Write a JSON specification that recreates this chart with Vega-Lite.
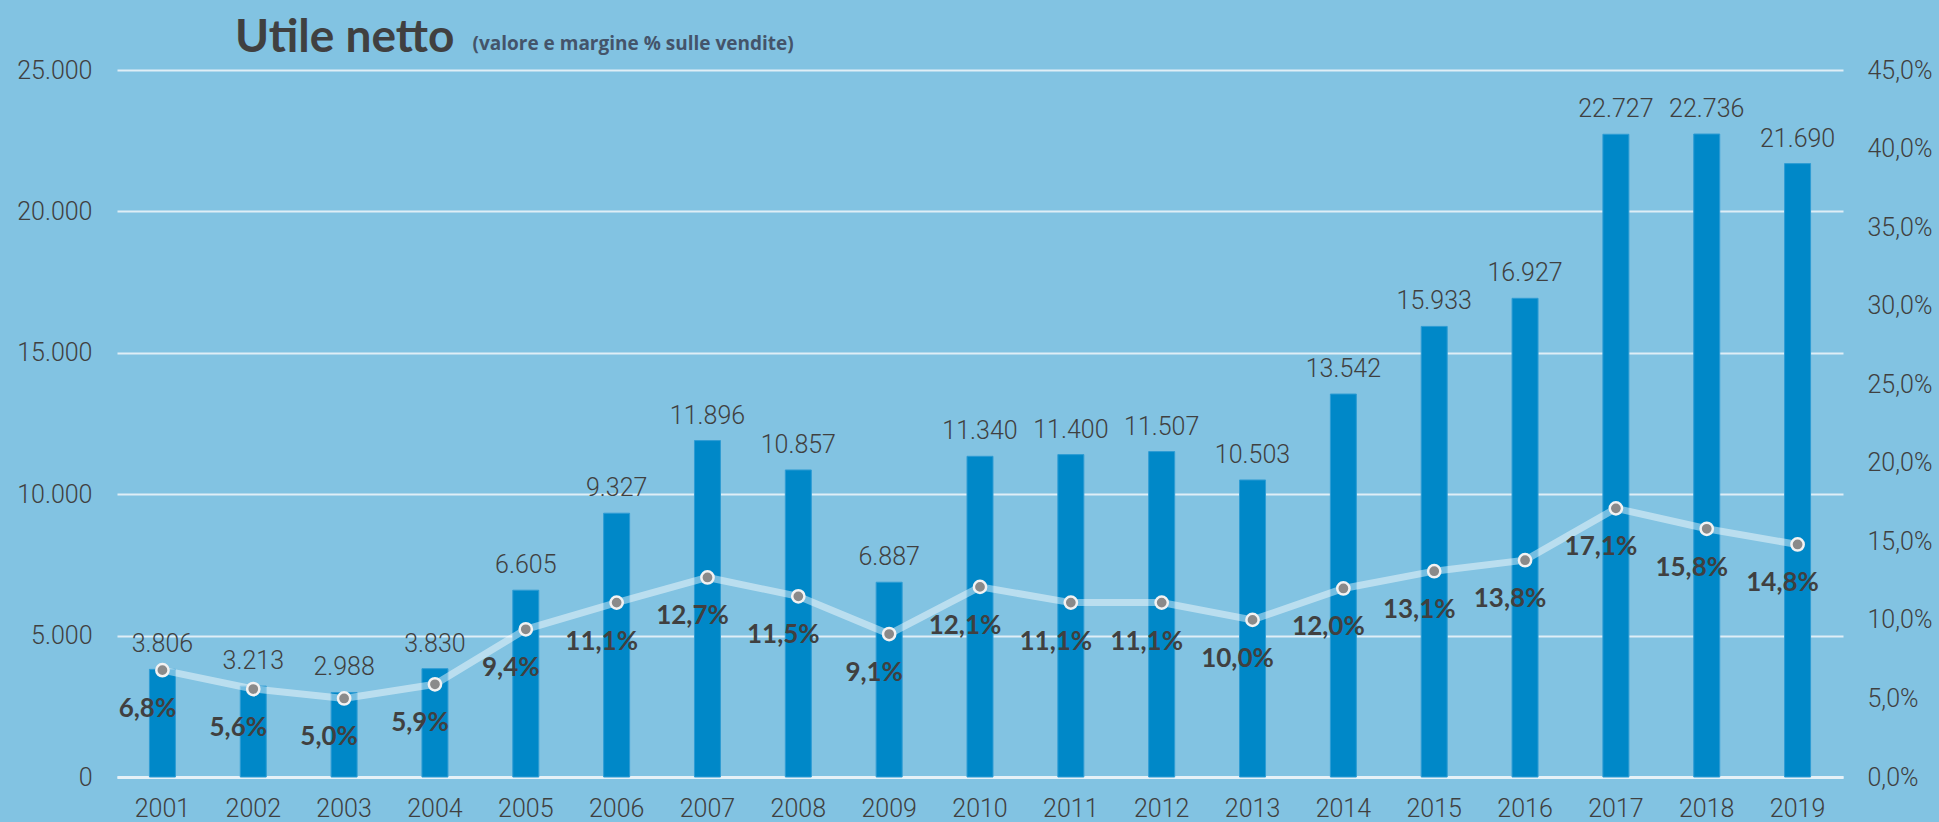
{
  "$schema": "https://vega.github.io/schema/vega-lite/v6.json",
  "width": 1726,
  "height": 707,
  "autosize": {"type": "none"},
  "padding": {"left": 117, "top": 70, "right": 96, "bottom": 45},
  "background": "#82c3e2",
  "config": {
    "locale": {"number": {"decimal": ",", "thousands": ".", "grouping": [3], "currency": ["€", ""]}},
    "view": {"stroke": null}
  },
  "title": {
    "text": "Utile netto",
    "anchor": "start",
    "frame": "group",
    "dx": 118,
    "dy": 48,
    "font": "Lato",
    "fontSize": 46,
    "fontWeight": "bold",
    "color": "#404040",
    "offset": 20
  },
  "data": {
    "values": [
      {"anno": "2001", "utile": 3806, "margine": 0.068},
      {"anno": "2002", "utile": 3213, "margine": 0.056},
      {"anno": "2003", "utile": 2988, "margine": 0.050},
      {"anno": "2004", "utile": 3830, "margine": 0.059},
      {"anno": "2005", "utile": 6605, "margine": 0.094},
      {"anno": "2006", "utile": 9327, "margine": 0.111},
      {"anno": "2007", "utile": 11896, "margine": 0.127},
      {"anno": "2008", "utile": 10857, "margine": 0.115},
      {"anno": "2009", "utile": 6887, "margine": 0.091},
      {"anno": "2010", "utile": 11340, "margine": 0.121},
      {"anno": "2011", "utile": 11400, "margine": 0.111},
      {"anno": "2012", "utile": 11507, "margine": 0.111},
      {"anno": "2013", "utile": 10503, "margine": 0.100},
      {"anno": "2014", "utile": 13542, "margine": 0.120},
      {"anno": "2015", "utile": 15933, "margine": 0.131},
      {"anno": "2016", "utile": 16927, "margine": 0.138},
      {"anno": "2017", "utile": 22727, "margine": 0.171},
      {"anno": "2018", "utile": 22736, "margine": 0.158},
      {"anno": "2019", "utile": 21690, "margine": 0.148}
    ]
  },
  "encoding": {
    "x": {
      "field": "anno",
      "type": "ordinal",
      "scale": {"paddingInner": 0.714, "paddingOuter": 0.357},
      "axis": {
        "title": null,
        "labelAngle": 0,
        "labelFont": "Roboto",
        "labelFontWeight": 300,
        "labelFontSize": 25,
        "labelColor": "#404040",
        "labelPadding": 19,
        "ticks": false,
        "domain": true,
        "domainColor": "#e6f1f7",
        "domainWidth": 3
      }
    }
  },
  "layer": [
    {
      "encoding": {
        "y": {
          "field": "utile",
          "type": "quantitative",
          "scale": {"domain": [0, 25000]},
          "axis": {
            "orient": "left",
            "values": [0, 5000, 10000, 15000, 20000, 25000],
            "format": ",.0f",
            "grid": true,
            "gridColor": "#dfeef6",
            "gridWidth": 2,
            "domain": false,
            "ticks": false,
            "labelFont": "Roboto",
            "labelFontWeight": 300,
            "labelFontSize": 25,
            "labelColor": "#404040",
            "labelPadding": 25,
            "title": "(valore e margine % sulle vendite)",
            "titleAngle": 0,
            "titleX": 355,
            "titleY": -21,
            "titleAlign": "left",
            "titleBaseline": "alphabetic",
            "titleFont": "Open Sans",
            "titleFontSize": 19,
            "titleFontWeight": "bold",
            "titleColor": "#44546a"
          }
        }
      },
      "layer": [
        {"mark": {"type": "bar", "color": "#0088c8", "stroke": "#2e9cd4", "strokeWidth": 1}},
        {
          "mark": {"type": "text", "baseline": "alphabetic", "dy": -17, "font": "Roboto", "fontWeight": 300, "fontSize": 25, "color": "#404040"},
          "encoding": {"text": {"field": "utile", "type": "quantitative", "format": ",.0f"}}
        }
      ]
    },
    {
      "encoding": {
        "y": {
          "field": "margine",
          "type": "quantitative",
          "scale": {"domain": [0, 0.45]},
          "axis": {
            "orient": "right",
            "values": [0, 0.05, 0.1, 0.15, 0.2, 0.25, 0.3, 0.35, 0.4, 0.45],
            "format": ".1%",
            "grid": false,
            "domain": false,
            "ticks": false,
            "labelFont": "Roboto",
            "labelFontWeight": 300,
            "labelFontSize": 25,
            "labelColor": "#404040",
            "labelPadding": 24,
            "title": null
          }
        }
      },
      "layer": [
        {"mark": {"type": "line", "color": "#ffffff", "opacity": 0.45, "strokeWidth": 7}},
        {"mark": {"type": "point", "filled": true, "fill": "#8a8a8a", "stroke": "#f2f2f2", "strokeWidth": 2.5, "size": 150, "opacity": 1}},
        {
          "mark": {"type": "text", "baseline": "middle", "align": "center", "dx": -15, "dy": 39, "font": "Lato", "fontWeight": "bold", "fontSize": 26, "color": "#404040"},
          "encoding": {"text": {"field": "margine", "type": "quantitative", "format": ".1%"}}
        }
      ]
    }
  ],
  "resolve": {"scale": {"y": "independent"}}
}
